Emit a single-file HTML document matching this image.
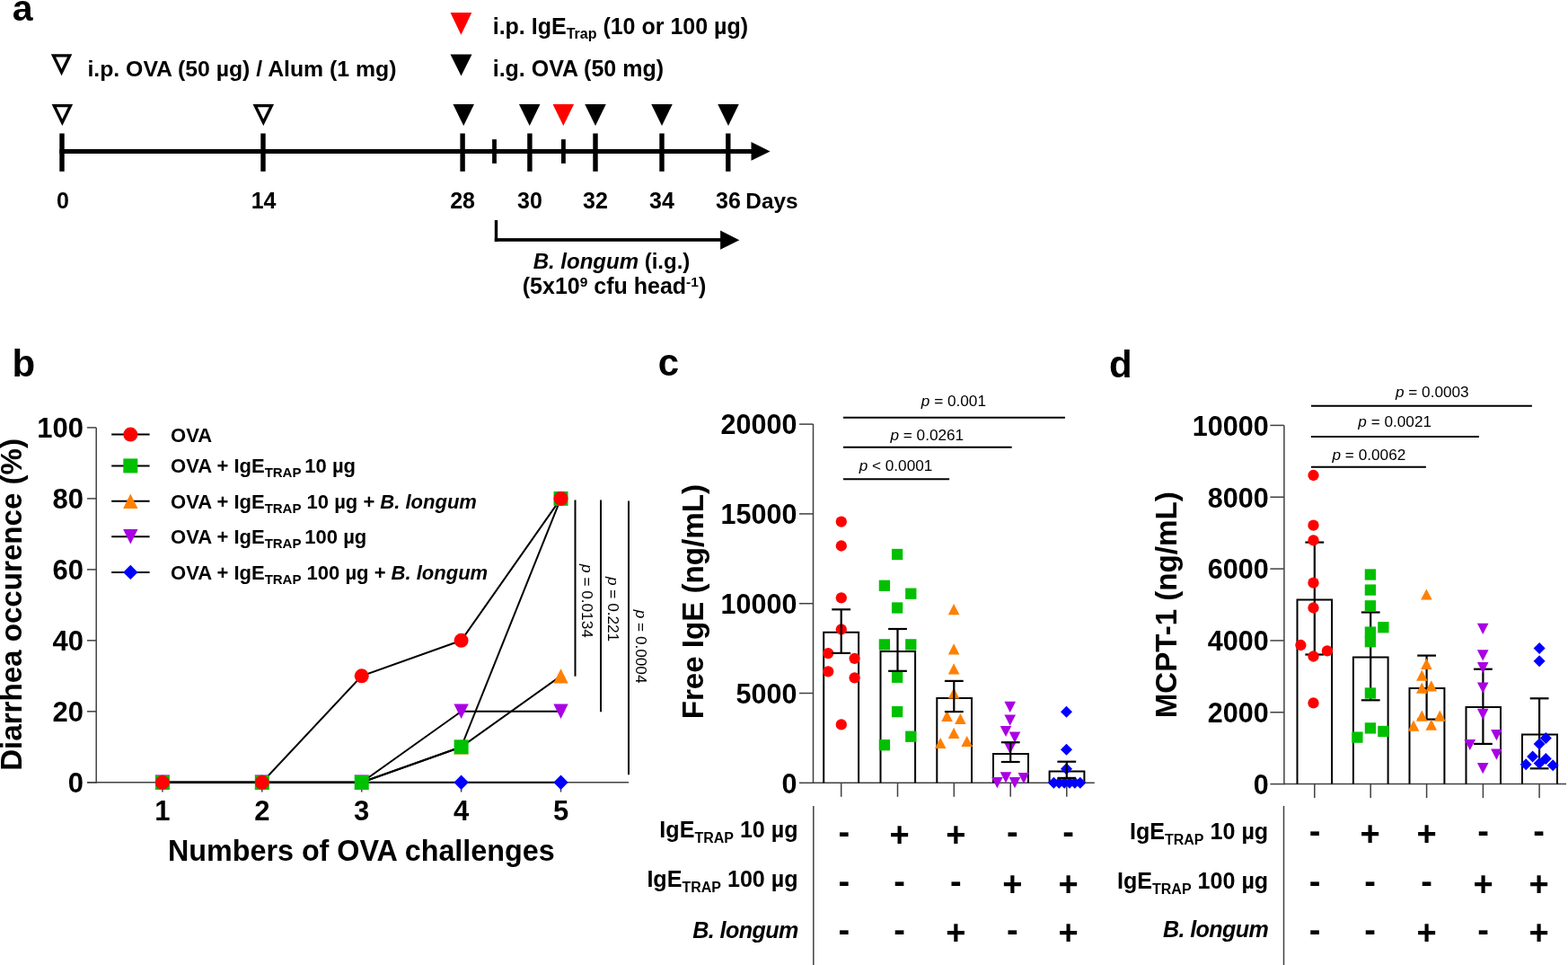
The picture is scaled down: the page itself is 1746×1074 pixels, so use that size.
<!DOCTYPE html>
<html><head><meta charset="utf-8"><title>Figure</title>
<style>
html,body{margin:0;padding:0;background:#fff;}
body{width:1746px;height:1074px;overflow:hidden;}
svg{display:block;}
text{font-family:"Liberation Sans", Arial, Helvetica, sans-serif;fill:#000;}
</style></head><body>
<svg width="1746" height="1074" viewBox="0 0 1746 1074">
<rect x="0" y="0" width="1746" height="1074" fill="#fff"/>
<text x="13.70" y="22.70" font-size="41" font-weight="bold" text-anchor="start">a</text>
<path d="M56.80,60.30 L80.30,60.30 L68.55,84.30 Z M62.09,63.60 L75.01,63.60 L68.55,76.80 Z" fill="#000" fill-rule="evenodd"/>
<text x="97.40" y="85.00" font-size="24.8" font-weight="bold" text-anchor="start">i.p. OVA (50 µg) / Alum (1 mg)</text>
<polygon points="501.50,14.00 525.30,14.00 513.40,38.70" fill="#FF0000"/>
<polygon points="501.50,60.50 525.50,60.50 513.50,84.50" fill="#000"/>
<text x="548.7" y="38" font-size="25" font-weight="bold">i.p. IgE<tspan font-size="16" dy="4.5">Trap</tspan><tspan dy="-4.5"> (10 or 100 µg)</tspan></text>
<text x="548.70" y="85.00" font-size="25" font-weight="bold" text-anchor="start">i.g. OVA (50 mg)</text>
<rect x="66.30" y="166.00" width="770.70" height="5.00" fill="#000"/>
<polygon points="836.50,157.90 836.50,178.80 857.60,168.40" fill="#000"/>
<rect x="66.30" y="148.50" width="5.40" height="42.30" fill="#000"/>
<rect x="290.30" y="148.50" width="5.40" height="42.30" fill="#000"/>
<rect x="512.40" y="148.50" width="5.40" height="42.30" fill="#000"/>
<rect x="587.20" y="148.50" width="5.40" height="42.30" fill="#000"/>
<rect x="660.30" y="148.50" width="5.40" height="42.30" fill="#000"/>
<rect x="734.30" y="148.50" width="5.40" height="42.30" fill="#000"/>
<rect x="808.10" y="148.50" width="5.40" height="42.30" fill="#000"/>
<rect x="548.10" y="155.10" width="4.80" height="26.80" fill="#000"/>
<rect x="625.00" y="155.10" width="4.80" height="26.80" fill="#000"/>
<path d="M57.60,116.00 L81.10,116.00 L69.35,140.00 Z M62.89,119.30 L75.81,119.30 L69.35,132.50 Z" fill="#000" fill-rule="evenodd"/>
<path d="M281.55,116.00 L305.05,116.00 L293.30,140.00 Z M286.84,119.30 L299.76,119.30 L293.30,132.50 Z" fill="#000" fill-rule="evenodd"/>
<polygon points="504.45,116.00 527.95,116.00 516.20,140.00" fill="#000"/>
<polygon points="577.95,116.00 601.45,116.00 589.70,140.00" fill="#000"/>
<polygon points="651.25,116.00 674.75,116.00 663.00,140.00" fill="#000"/>
<polygon points="725.25,116.00 748.75,116.00 737.00,140.00" fill="#000"/>
<polygon points="799.25,116.00 822.75,116.00 811.00,140.00" fill="#000"/>
<polygon points="615.55,116.00 639.05,116.00 627.30,140.00" fill="#FF0000"/>
<text x="70.00" y="232.40" font-size="25" font-weight="bold" text-anchor="middle">0</text>
<text x="293.60" y="232.40" font-size="25" font-weight="bold" text-anchor="middle">14</text>
<text x="515.10" y="232.40" font-size="25" font-weight="bold" text-anchor="middle">28</text>
<text x="589.90" y="232.40" font-size="25" font-weight="bold" text-anchor="middle">30</text>
<text x="663.00" y="232.40" font-size="25" font-weight="bold" text-anchor="middle">32</text>
<text x="737.00" y="232.40" font-size="25" font-weight="bold" text-anchor="middle">34</text>
<text x="811.00" y="232.40" font-size="25" font-weight="bold" text-anchor="middle">36</text>
<text x="830.35" y="232.40" font-size="24.4" font-weight="bold" text-anchor="start">Days</text>
<rect x="550.80" y="245.00" width="3.40" height="23.90" fill="#000"/>
<rect x="550.80" y="265.10" width="252.20" height="3.70" fill="#000"/>
<polygon points="802.10,256.50 802.10,277.70 823.30,267.20" fill="#000"/>
<text x="681" y="299" font-size="24" font-weight="bold" text-anchor="middle"><tspan font-style="italic">B. longum</tspan> (i.g.)</text>
<text x="684" y="327.1" font-size="25" font-weight="bold" text-anchor="middle">(5x10<tspan font-size="15.5" dy="-7.8">9</tspan><tspan dy="7.8"> cfu head</tspan><tspan font-size="15.5" dy="-7.8">-1</tspan><tspan dy="7.8">)</tspan></text>
<text x="13.40" y="419.40" font-size="42" font-weight="bold" text-anchor="start">b</text>
<line x1="107.20" y1="475.90" x2="107.20" y2="871.55" stroke="#404040" stroke-width="1.5" stroke-linecap="butt"/>
<line x1="97.00" y1="870.80" x2="700.00" y2="870.80" stroke="#404040" stroke-width="1.5" stroke-linecap="butt"/>
<line x1="97.00" y1="870.80" x2="107.20" y2="870.80" stroke="#404040" stroke-width="1.5" stroke-linecap="butt"/>
<text x="93.00" y="882.10" font-size="31" font-weight="bold" text-anchor="end">0</text>
<line x1="97.00" y1="791.82" x2="107.20" y2="791.82" stroke="#404040" stroke-width="1.5" stroke-linecap="butt"/>
<text x="93.00" y="803.12" font-size="31" font-weight="bold" text-anchor="end">20</text>
<line x1="97.00" y1="712.84" x2="107.20" y2="712.84" stroke="#404040" stroke-width="1.5" stroke-linecap="butt"/>
<text x="93.00" y="724.14" font-size="31" font-weight="bold" text-anchor="end">40</text>
<line x1="97.00" y1="633.86" x2="107.20" y2="633.86" stroke="#404040" stroke-width="1.5" stroke-linecap="butt"/>
<text x="93.00" y="645.16" font-size="31" font-weight="bold" text-anchor="end">60</text>
<line x1="97.00" y1="554.88" x2="107.20" y2="554.88" stroke="#404040" stroke-width="1.5" stroke-linecap="butt"/>
<text x="93.00" y="566.18" font-size="31" font-weight="bold" text-anchor="end">80</text>
<line x1="97.00" y1="475.90" x2="107.20" y2="475.90" stroke="#404040" stroke-width="1.5" stroke-linecap="butt"/>
<text x="93.00" y="487.20" font-size="31" font-weight="bold" text-anchor="end">100</text>
<line x1="180.90" y1="870.80" x2="180.90" y2="881.50" stroke="#404040" stroke-width="1.5" stroke-linecap="butt"/>
<text x="180.90" y="913.00" font-size="31" font-weight="bold" text-anchor="middle">1</text>
<line x1="291.80" y1="870.80" x2="291.80" y2="881.50" stroke="#404040" stroke-width="1.5" stroke-linecap="butt"/>
<text x="291.80" y="913.00" font-size="31" font-weight="bold" text-anchor="middle">2</text>
<line x1="402.70" y1="870.80" x2="402.70" y2="881.50" stroke="#404040" stroke-width="1.5" stroke-linecap="butt"/>
<text x="402.70" y="913.00" font-size="31" font-weight="bold" text-anchor="middle">3</text>
<line x1="513.60" y1="870.80" x2="513.60" y2="881.50" stroke="#404040" stroke-width="1.5" stroke-linecap="butt"/>
<text x="513.60" y="913.00" font-size="31" font-weight="bold" text-anchor="middle">4</text>
<line x1="624.50" y1="870.80" x2="624.50" y2="881.50" stroke="#404040" stroke-width="1.5" stroke-linecap="butt"/>
<text x="624.50" y="913.00" font-size="31" font-weight="bold" text-anchor="middle">5</text>
<text x="402.30" y="957.50" font-size="32.3" font-weight="bold" text-anchor="middle">Numbers of OVA challenges</text>
<text transform="translate(24.2,672.9) rotate(-90) scale(0.98,1)" x="0" y="0" font-size="33.8" font-weight="bold" text-anchor="middle">Diarrhea occurence (%)</text>
<polyline points="180.90,870.80 291.80,870.80 402.70,870.80 513.60,870.80 624.50,870.80" fill="none" stroke="#000" stroke-width="2"/>
<polyline points="180.90,870.80 291.80,870.80 402.70,870.80 513.60,791.82 624.50,791.82" fill="none" stroke="#000" stroke-width="2"/>
<polyline points="180.90,870.80 291.80,870.80 402.70,870.80 513.60,831.31 624.50,752.33" fill="none" stroke="#000" stroke-width="2"/>
<polyline points="180.90,870.80 291.80,870.80 402.70,870.80 513.60,831.31 624.50,554.88" fill="none" stroke="#000" stroke-width="2"/>
<polyline points="180.90,870.80 291.80,870.80 402.70,752.33 513.60,712.84 624.50,554.88" fill="none" stroke="#000" stroke-width="2"/>
<polygon points="172.70,870.80 180.90,862.60 189.10,870.80 180.90,879.00" fill="#0000FF"/>
<polygon points="283.60,870.80 291.80,862.60 300.00,870.80 291.80,879.00" fill="#0000FF"/>
<polygon points="394.50,870.80 402.70,862.60 410.90,870.80 402.70,879.00" fill="#0000FF"/>
<polygon points="505.40,870.80 513.60,862.60 521.80,870.80 513.60,879.00" fill="#0000FF"/>
<polygon points="616.30,870.80 624.50,862.60 632.70,870.80 624.50,879.00" fill="#0000FF"/>
<polygon points="172.70,862.60 189.10,862.60 180.90,879.00" fill="#A900E4"/>
<polygon points="283.60,862.60 300.00,862.60 291.80,879.00" fill="#A900E4"/>
<polygon points="394.50,862.60 410.90,862.60 402.70,879.00" fill="#A900E4"/>
<polygon points="505.40,783.62 521.80,783.62 513.60,800.02" fill="#A900E4"/>
<polygon points="616.30,783.62 632.70,783.62 624.50,800.02" fill="#A900E4"/>
<polygon points="172.70,879.00 189.10,879.00 180.90,862.60" fill="#FF8000"/>
<polygon points="283.60,879.00 300.00,879.00 291.80,862.60" fill="#FF8000"/>
<polygon points="394.50,879.00 410.90,879.00 402.70,862.60" fill="#FF8000"/>
<polygon points="505.40,839.51 521.80,839.51 513.60,823.11" fill="#FF8000"/>
<polygon points="616.30,760.53 632.70,760.53 624.50,744.13" fill="#FF8000"/>
<rect x="172.90" y="862.80" width="16.00" height="16.00" fill="#00C000"/>
<rect x="283.80" y="862.80" width="16.00" height="16.00" fill="#00C000"/>
<rect x="394.70" y="862.80" width="16.00" height="16.00" fill="#00C000"/>
<rect x="505.60" y="823.31" width="16.00" height="16.00" fill="#00C000"/>
<rect x="616.50" y="546.88" width="16.00" height="16.00" fill="#00C000"/>
<circle cx="180.90" cy="870.80" r="8.0" fill="#FF0000"/>
<circle cx="291.80" cy="870.80" r="8.0" fill="#FF0000"/>
<circle cx="402.70" cy="752.33" r="8.0" fill="#FF0000"/>
<circle cx="513.60" cy="712.84" r="8.0" fill="#FF0000"/>
<circle cx="624.50" cy="554.88" r="8.0" fill="#FF0000"/>
<line x1="124.20" y1="483.60" x2="166.60" y2="483.60" stroke="#000" stroke-width="2" stroke-linecap="butt"/>
<circle cx="145.30" cy="483.60" r="8.0" fill="#FF0000"/>
<text x="190.1" y="491.50" font-size="22" font-weight="bold">OVA</text>
<line x1="124.20" y1="518.40" x2="166.60" y2="518.40" stroke="#000" stroke-width="2" stroke-linecap="butt"/>
<rect x="137.30" y="510.40" width="16.00" height="16.00" fill="#00C000"/>
<text x="190.1" y="526.30" font-size="22" font-weight="bold">OVA + IgE<tspan font-size="15" dy="5">TRAP </tspan><tspan dy="-5">10 µg</tspan></text>
<line x1="124.20" y1="557.80" x2="166.60" y2="557.80" stroke="#000" stroke-width="2" stroke-linecap="butt"/>
<polygon points="137.10,566.00 153.50,566.00 145.30,549.60" fill="#FF8000"/>
<text x="190.1" y="565.70" font-size="22" font-weight="bold">OVA + IgE<tspan font-size="15" dy="5">TRAP</tspan><tspan dy="-5"> 10 µg + </tspan><tspan font-style="italic">B. longum</tspan></text>
<line x1="124.20" y1="597.30" x2="166.60" y2="597.30" stroke="#000" stroke-width="2" stroke-linecap="butt"/>
<polygon points="137.10,589.10 153.50,589.10 145.30,605.50" fill="#A900E4"/>
<text x="190.1" y="605.20" font-size="22" font-weight="bold">OVA + IgE<tspan font-size="15" dy="5">TRAP </tspan><tspan dy="-5">100 µg</tspan></text>
<line x1="124.20" y1="636.90" x2="166.60" y2="636.90" stroke="#000" stroke-width="2" stroke-linecap="butt"/>
<polygon points="137.10,636.90 145.30,628.70 153.50,636.90 145.30,645.10" fill="#0000FF"/>
<text x="190.1" y="644.80" font-size="22" font-weight="bold">OVA + IgE<tspan font-size="15" dy="5">TRAP</tspan><tspan dy="-5"> 100 µg + </tspan><tspan font-style="italic">B. longum</tspan></text>
<line x1="640.50" y1="556.50" x2="640.50" y2="752.70" stroke="#000" stroke-width="2" stroke-linecap="butt"/>
<text transform="translate(648.4,668.9) rotate(90)" x="0" y="0" font-size="17.2" font-weight="normal" text-anchor="middle"><tspan font-style="italic">p</tspan> = 0.0134</text>
<line x1="669.00" y1="556.50" x2="669.00" y2="792.20" stroke="#000" stroke-width="2" stroke-linecap="butt"/>
<text transform="translate(676.5,678.1) rotate(90)" x="0" y="0" font-size="17.2" font-weight="normal" text-anchor="middle"><tspan font-style="italic">p</tspan> = 0.221</text>
<line x1="700.00" y1="557.40" x2="700.00" y2="862.20" stroke="#000" stroke-width="2" stroke-linecap="butt"/>
<text transform="translate(708,719.6) rotate(90)" x="0" y="0" font-size="17.2" font-weight="normal" text-anchor="middle"><tspan font-style="italic">p</tspan> = 0.0004</text>
<text x="732.80" y="418.30" font-size="42" font-weight="bold" text-anchor="start">c</text>
<line x1="905.50" y1="472.10" x2="905.50" y2="872.05" stroke="#404040" stroke-width="1.5" stroke-linecap="butt"/>
<line x1="905.50" y1="871.30" x2="1218.80" y2="871.30" stroke="#404040" stroke-width="1.5" stroke-linecap="butt"/>
<line x1="890.00" y1="871.30" x2="905.50" y2="871.30" stroke="#404040" stroke-width="1.5" stroke-linecap="butt"/>
<text x="887.40" y="882.60" font-size="30.5" font-weight="bold" text-anchor="end">0</text>
<line x1="890.00" y1="771.50" x2="905.50" y2="771.50" stroke="#404040" stroke-width="1.5" stroke-linecap="butt"/>
<text x="887.40" y="782.80" font-size="30.5" font-weight="bold" text-anchor="end">5000</text>
<line x1="890.00" y1="671.70" x2="905.50" y2="671.70" stroke="#404040" stroke-width="1.5" stroke-linecap="butt"/>
<text x="887.40" y="683.00" font-size="30.5" font-weight="bold" text-anchor="end">10000</text>
<line x1="890.00" y1="571.90" x2="905.50" y2="571.90" stroke="#404040" stroke-width="1.5" stroke-linecap="butt"/>
<text x="887.40" y="583.20" font-size="30.5" font-weight="bold" text-anchor="end">15000</text>
<line x1="890.00" y1="472.10" x2="905.50" y2="472.10" stroke="#404040" stroke-width="1.5" stroke-linecap="butt"/>
<text x="887.40" y="483.40" font-size="30.5" font-weight="bold" text-anchor="end">20000</text>
<line x1="936.70" y1="871.30" x2="936.70" y2="886.80" stroke="#404040" stroke-width="1.5" stroke-linecap="butt"/>
<line x1="999.50" y1="871.30" x2="999.50" y2="886.80" stroke="#404040" stroke-width="1.5" stroke-linecap="butt"/>
<line x1="1062.30" y1="871.30" x2="1062.30" y2="886.80" stroke="#404040" stroke-width="1.5" stroke-linecap="butt"/>
<line x1="1125.20" y1="871.30" x2="1125.20" y2="886.80" stroke="#404040" stroke-width="1.5" stroke-linecap="butt"/>
<line x1="1187.80" y1="871.30" x2="1187.80" y2="886.80" stroke="#404040" stroke-width="1.5" stroke-linecap="butt"/>
<path d="M917.20,871.30 V703.70 H956.10 V871.30" fill="none" stroke="#000" stroke-width="2"/>
<path d="M980.50,871.30 V725.00 H1019.10 V871.30" fill="none" stroke="#000" stroke-width="2"/>
<path d="M1043.30,871.30 V777.00 H1082.00 V871.30" fill="none" stroke="#000" stroke-width="2"/>
<path d="M1106.00,871.30 V839.00 H1145.00 V871.30" fill="none" stroke="#000" stroke-width="2"/>
<path d="M1168.60,871.30 V858.50 H1207.40 V871.30" fill="none" stroke="#000" stroke-width="2"/>
<circle cx="936.80" cy="580.60" r="6.15" fill="#FF0000"/>
<circle cx="936.80" cy="607.50" r="6.15" fill="#FF0000"/>
<circle cx="936.80" cy="665.30" r="6.15" fill="#FF0000"/>
<circle cx="936.80" cy="700.50" r="6.15" fill="#FF0000"/>
<circle cx="922.20" cy="727.10" r="6.15" fill="#FF0000"/>
<circle cx="951.60" cy="732.80" r="6.15" fill="#FF0000"/>
<circle cx="922.20" cy="747.30" r="6.15" fill="#FF0000"/>
<circle cx="951.60" cy="754.30" r="6.15" fill="#FF0000"/>
<circle cx="936.80" cy="806.40" r="6.15" fill="#FF0000"/>
<rect x="992.95" y="610.85" width="12.30" height="12.30" fill="#00C000"/>
<rect x="978.75" y="645.65" width="12.30" height="12.30" fill="#00C000"/>
<rect x="1008.15" y="654.55" width="12.30" height="12.30" fill="#00C000"/>
<rect x="992.95" y="670.35" width="12.30" height="12.30" fill="#00C000"/>
<rect x="978.75" y="711.25" width="12.30" height="12.30" fill="#00C000"/>
<rect x="1008.15" y="711.25" width="12.30" height="12.30" fill="#00C000"/>
<rect x="992.95" y="747.65" width="12.30" height="12.30" fill="#00C000"/>
<rect x="992.95" y="785.95" width="12.30" height="12.30" fill="#00C000"/>
<rect x="1008.15" y="813.55" width="12.30" height="12.30" fill="#00C000"/>
<rect x="978.75" y="823.05" width="12.30" height="12.30" fill="#00C000"/>
<polygon points="1055.80,684.20 1068.40,684.20 1062.10,672.00" fill="#FF8000"/>
<polygon points="1055.80,728.50 1068.40,728.50 1062.10,716.30" fill="#FF8000"/>
<polygon points="1055.80,750.40 1068.40,750.40 1062.10,738.20" fill="#FF8000"/>
<polygon points="1055.80,777.60 1068.40,777.60 1062.10,765.40" fill="#FF8000"/>
<polygon points="1048.20,803.00 1060.80,803.00 1054.50,790.80" fill="#FF8000"/>
<polygon points="1063.10,806.10 1075.70,806.10 1069.40,793.90" fill="#FF8000"/>
<polygon points="1055.80,822.00 1068.40,822.00 1062.10,809.80" fill="#FF8000"/>
<polygon points="1040.90,833.10 1053.50,833.10 1047.20,820.90" fill="#FF8000"/>
<polygon points="1070.40,831.10 1083.00,831.10 1076.70,818.90" fill="#FF8000"/>
<polygon points="1118.40,780.80 1131.00,780.80 1124.70,793.00" fill="#A900E4"/>
<polygon points="1118.40,795.60 1131.00,795.60 1124.70,807.80" fill="#A900E4"/>
<polygon points="1113.70,807.90 1126.30,807.90 1120.00,820.10" fill="#A900E4"/>
<polygon points="1123.70,814.50 1136.30,814.50 1130.00,826.70" fill="#A900E4"/>
<polygon points="1118.40,826.90 1131.00,826.90 1124.70,839.10" fill="#A900E4"/>
<polygon points="1113.70,859.20 1126.30,859.20 1120.00,871.40" fill="#A900E4"/>
<polygon points="1104.10,865.00 1116.70,865.00 1110.40,877.20" fill="#A900E4"/>
<polygon points="1123.70,865.00 1136.30,865.00 1130.00,877.20" fill="#A900E4"/>
<polygon points="1133.60,860.00 1146.20,860.00 1139.90,872.20" fill="#A900E4"/>
<polygon points="1181.00,792.30 1187.50,785.80 1194.00,792.30 1187.50,798.80" fill="#0000FF"/>
<polygon points="1181.00,834.30 1187.50,827.80 1194.00,834.30 1187.50,840.80" fill="#0000FF"/>
<polygon points="1181.00,855.80 1187.50,849.30 1194.00,855.80 1187.50,862.30" fill="#0000FF"/>
<polygon points="1166.90,871.20 1173.40,864.70 1179.90,871.20 1173.40,877.70" fill="#0000FF"/>
<polygon points="1172.80,871.20 1179.30,864.70 1185.80,871.20 1179.30,877.70" fill="#0000FF"/>
<polygon points="1178.70,871.20 1185.20,864.70 1191.70,871.20 1185.20,877.70" fill="#0000FF"/>
<polygon points="1184.50,871.20 1191.00,864.70 1197.50,871.20 1191.00,877.70" fill="#0000FF"/>
<polygon points="1190.40,871.20 1196.90,864.70 1203.40,871.20 1196.90,877.70" fill="#0000FF"/>
<polygon points="1196.30,871.20 1202.80,864.70 1209.30,871.20 1202.80,877.70" fill="#0000FF"/>
<line x1="936.70" y1="678.30" x2="936.70" y2="726.90" stroke="#000" stroke-width="2.2" stroke-linecap="butt"/>
<line x1="926.30" y1="678.30" x2="947.10" y2="678.30" stroke="#000" stroke-width="2.2" stroke-linecap="butt"/>
<line x1="926.30" y1="726.90" x2="947.10" y2="726.90" stroke="#000" stroke-width="2.2" stroke-linecap="butt"/>
<line x1="999.50" y1="700.00" x2="999.50" y2="746.80" stroke="#000" stroke-width="2.2" stroke-linecap="butt"/>
<line x1="989.10" y1="700.00" x2="1009.90" y2="700.00" stroke="#000" stroke-width="2.2" stroke-linecap="butt"/>
<line x1="989.10" y1="746.80" x2="1009.90" y2="746.80" stroke="#000" stroke-width="2.2" stroke-linecap="butt"/>
<line x1="1062.30" y1="757.90" x2="1062.30" y2="792.10" stroke="#000" stroke-width="2.2" stroke-linecap="butt"/>
<line x1="1051.90" y1="757.90" x2="1072.70" y2="757.90" stroke="#000" stroke-width="2.2" stroke-linecap="butt"/>
<line x1="1051.90" y1="792.10" x2="1072.70" y2="792.10" stroke="#000" stroke-width="2.2" stroke-linecap="butt"/>
<line x1="1125.20" y1="826.20" x2="1125.20" y2="848.00" stroke="#000" stroke-width="2.2" stroke-linecap="butt"/>
<line x1="1114.80" y1="826.20" x2="1135.60" y2="826.20" stroke="#000" stroke-width="2.2" stroke-linecap="butt"/>
<line x1="1114.80" y1="848.00" x2="1135.60" y2="848.00" stroke="#000" stroke-width="2.2" stroke-linecap="butt"/>
<line x1="1187.80" y1="847.70" x2="1187.80" y2="865.90" stroke="#000" stroke-width="2.2" stroke-linecap="butt"/>
<line x1="1177.40" y1="847.70" x2="1198.20" y2="847.70" stroke="#000" stroke-width="2.2" stroke-linecap="butt"/>
<line x1="1177.40" y1="865.90" x2="1198.20" y2="865.90" stroke="#000" stroke-width="2.2" stroke-linecap="butt"/>
<line x1="939.00" y1="464.80" x2="1185.90" y2="464.80" stroke="#000" stroke-width="2" stroke-linecap="butt"/>
<text x="1061.90" y="452.00" font-size="17.2" font-weight="normal" text-anchor="middle"><tspan font-style="italic">p</tspan> = 0.001</text>
<line x1="939.00" y1="497.70" x2="1126.70" y2="497.70" stroke="#000" stroke-width="2" stroke-linecap="butt"/>
<text x="1032.30" y="489.50" font-size="17.2" font-weight="normal" text-anchor="middle"><tspan font-style="italic">p</tspan> = 0.0261</text>
<line x1="939.00" y1="533.30" x2="1057.10" y2="533.30" stroke="#000" stroke-width="2" stroke-linecap="butt"/>
<text x="997.50" y="523.60" font-size="17.2" font-weight="normal" text-anchor="middle"><tspan font-style="italic">p</tspan> &lt; 0.0001</text>
<text transform="translate(783.3,669.7) rotate(-90) scale(0.98,1)" x="0" y="0" font-size="33.8" font-weight="bold" text-anchor="middle">Free IgE (ng/mL)</text>
<line x1="905.80" y1="897.00" x2="905.80" y2="1074.00" stroke="#404040" stroke-width="1.5" stroke-linecap="butt"/>
<text x="888.60" y="931.90" font-size="25.1" font-weight="bold" text-anchor="end">IgE<tspan font-size="16" dy="5.6">TRAP</tspan><tspan dy="-5.6"> 10 µg</tspan></text>
<text x="888.60" y="987.00" font-size="25.1" font-weight="bold" text-anchor="end">IgE<tspan font-size="16" dy="5.6">TRAP</tspan><tspan dy="-5.6"> 100 µg</tspan></text>
<text x="888.60" y="1043.50" font-size="25.1" font-weight="bold" text-anchor="end"><tspan font-style="italic" letter-spacing="-0.6">B. longum</tspan></text>
<text x="939.80" y="938.88" font-size="38" font-weight="bold" text-anchor="middle">-</text>
<text x="1001.50" y="941.54" font-size="38" font-weight="bold" text-anchor="middle">+</text>
<text x="1064.30" y="941.54" font-size="38" font-weight="bold" text-anchor="middle">+</text>
<text x="1127.40" y="938.88" font-size="38" font-weight="bold" text-anchor="middle">-</text>
<text x="1189.70" y="938.88" font-size="38" font-weight="bold" text-anchor="middle">-</text>
<text x="939.80" y="994.48" font-size="38" font-weight="bold" text-anchor="middle">-</text>
<text x="1001.50" y="994.48" font-size="38" font-weight="bold" text-anchor="middle">-</text>
<text x="1064.30" y="994.48" font-size="38" font-weight="bold" text-anchor="middle">-</text>
<text x="1127.40" y="997.14" font-size="38" font-weight="bold" text-anchor="middle">+</text>
<text x="1189.70" y="997.14" font-size="38" font-weight="bold" text-anchor="middle">+</text>
<text x="939.80" y="1048.18" font-size="38" font-weight="bold" text-anchor="middle">-</text>
<text x="1001.50" y="1048.18" font-size="38" font-weight="bold" text-anchor="middle">-</text>
<text x="1064.30" y="1050.84" font-size="38" font-weight="bold" text-anchor="middle">+</text>
<text x="1127.40" y="1048.18" font-size="38" font-weight="bold" text-anchor="middle">-</text>
<text x="1189.70" y="1050.84" font-size="38" font-weight="bold" text-anchor="middle">+</text>
<text x="1235.10" y="419.60" font-size="42" font-weight="bold" text-anchor="start">d</text>
<line x1="1429.90" y1="473.40" x2="1429.90" y2="873.35" stroke="#404040" stroke-width="1.5" stroke-linecap="butt"/>
<line x1="1429.90" y1="872.60" x2="1744.00" y2="872.60" stroke="#404040" stroke-width="1.5" stroke-linecap="butt"/>
<line x1="1414.40" y1="872.60" x2="1429.90" y2="872.60" stroke="#404040" stroke-width="1.5" stroke-linecap="butt"/>
<text x="1412.70" y="883.90" font-size="30.5" font-weight="bold" text-anchor="end">0</text>
<line x1="1414.40" y1="792.76" x2="1429.90" y2="792.76" stroke="#404040" stroke-width="1.5" stroke-linecap="butt"/>
<text x="1412.70" y="804.06" font-size="30.5" font-weight="bold" text-anchor="end">2000</text>
<line x1="1414.40" y1="712.92" x2="1429.90" y2="712.92" stroke="#404040" stroke-width="1.5" stroke-linecap="butt"/>
<text x="1412.70" y="724.22" font-size="30.5" font-weight="bold" text-anchor="end">4000</text>
<line x1="1414.40" y1="633.08" x2="1429.90" y2="633.08" stroke="#404040" stroke-width="1.5" stroke-linecap="butt"/>
<text x="1412.70" y="644.38" font-size="30.5" font-weight="bold" text-anchor="end">6000</text>
<line x1="1414.40" y1="553.24" x2="1429.90" y2="553.24" stroke="#404040" stroke-width="1.5" stroke-linecap="butt"/>
<text x="1412.70" y="564.54" font-size="30.5" font-weight="bold" text-anchor="end">8000</text>
<line x1="1414.40" y1="473.40" x2="1429.90" y2="473.40" stroke="#404040" stroke-width="1.5" stroke-linecap="butt"/>
<text x="1412.70" y="484.70" font-size="30.5" font-weight="bold" text-anchor="end">10000</text>
<line x1="1463.80" y1="872.60" x2="1463.80" y2="888.10" stroke="#404040" stroke-width="1.5" stroke-linecap="butt"/>
<line x1="1526.20" y1="872.60" x2="1526.20" y2="888.10" stroke="#404040" stroke-width="1.5" stroke-linecap="butt"/>
<line x1="1588.60" y1="872.60" x2="1588.60" y2="888.10" stroke="#404040" stroke-width="1.5" stroke-linecap="butt"/>
<line x1="1651.40" y1="872.60" x2="1651.40" y2="888.10" stroke="#404040" stroke-width="1.5" stroke-linecap="butt"/>
<line x1="1714.10" y1="872.60" x2="1714.10" y2="888.10" stroke="#404040" stroke-width="1.5" stroke-linecap="butt"/>
<path d="M1444.50,872.60 V667.50 H1483.10 V872.60" fill="none" stroke="#000" stroke-width="2"/>
<path d="M1506.90,872.60 V731.40 H1545.60 V872.60" fill="none" stroke="#000" stroke-width="2"/>
<path d="M1569.50,872.60 V765.90 H1608.40 V872.60" fill="none" stroke="#000" stroke-width="2"/>
<path d="M1632.50,872.60 V786.90 H1671.00 V872.60" fill="none" stroke="#000" stroke-width="2"/>
<path d="M1695.00,872.60 V817.40 H1734.00 V872.60" fill="none" stroke="#000" stroke-width="2"/>
<line x1="1463.80" y1="603.60" x2="1463.80" y2="728.50" stroke="#000" stroke-width="2.2" stroke-linecap="butt"/>
<line x1="1453.40" y1="603.60" x2="1474.20" y2="603.60" stroke="#000" stroke-width="2.2" stroke-linecap="butt"/>
<line x1="1453.40" y1="728.50" x2="1474.20" y2="728.50" stroke="#000" stroke-width="2.2" stroke-linecap="butt"/>
<line x1="1526.20" y1="681.50" x2="1526.20" y2="779.30" stroke="#000" stroke-width="2.2" stroke-linecap="butt"/>
<line x1="1515.80" y1="681.50" x2="1536.60" y2="681.50" stroke="#000" stroke-width="2.2" stroke-linecap="butt"/>
<line x1="1515.80" y1="779.30" x2="1536.60" y2="779.30" stroke="#000" stroke-width="2.2" stroke-linecap="butt"/>
<line x1="1588.60" y1="729.60" x2="1588.60" y2="800.60" stroke="#000" stroke-width="2.2" stroke-linecap="butt"/>
<line x1="1578.20" y1="729.60" x2="1599.00" y2="729.60" stroke="#000" stroke-width="2.2" stroke-linecap="butt"/>
<line x1="1578.20" y1="800.60" x2="1599.00" y2="800.60" stroke="#000" stroke-width="2.2" stroke-linecap="butt"/>
<line x1="1651.40" y1="744.70" x2="1651.40" y2="827.90" stroke="#000" stroke-width="2.2" stroke-linecap="butt"/>
<line x1="1641.00" y1="744.70" x2="1661.80" y2="744.70" stroke="#000" stroke-width="2.2" stroke-linecap="butt"/>
<line x1="1641.00" y1="827.90" x2="1661.80" y2="827.90" stroke="#000" stroke-width="2.2" stroke-linecap="butt"/>
<line x1="1714.10" y1="777.30" x2="1714.10" y2="855.30" stroke="#000" stroke-width="2.2" stroke-linecap="butt"/>
<line x1="1703.70" y1="777.30" x2="1724.50" y2="777.30" stroke="#000" stroke-width="2.2" stroke-linecap="butt"/>
<line x1="1703.70" y1="855.30" x2="1724.50" y2="855.30" stroke="#000" stroke-width="2.2" stroke-linecap="butt"/>
<circle cx="1462.50" cy="529.00" r="6.15" fill="#FF0000"/>
<circle cx="1462.50" cy="584.70" r="6.15" fill="#FF0000"/>
<circle cx="1462.50" cy="601.40" r="6.15" fill="#FF0000"/>
<circle cx="1462.50" cy="648.70" r="6.15" fill="#FF0000"/>
<circle cx="1462.50" cy="676.50" r="6.15" fill="#FF0000"/>
<circle cx="1448.40" cy="718.00" r="6.15" fill="#FF0000"/>
<circle cx="1477.90" cy="724.40" r="6.15" fill="#FF0000"/>
<circle cx="1462.50" cy="730.50" r="6.15" fill="#FF0000"/>
<circle cx="1462.50" cy="782.40" r="6.15" fill="#FF0000"/>
<rect x="1519.75" y="633.35" width="12.30" height="12.30" fill="#00C000"/>
<rect x="1519.75" y="650.45" width="12.30" height="12.30" fill="#00C000"/>
<rect x="1519.75" y="668.15" width="12.30" height="12.30" fill="#00C000"/>
<rect x="1534.25" y="692.05" width="12.30" height="12.30" fill="#00C000"/>
<rect x="1519.75" y="697.45" width="12.30" height="12.30" fill="#00C000"/>
<rect x="1519.75" y="708.05" width="12.30" height="12.30" fill="#00C000"/>
<rect x="1519.75" y="765.35" width="12.30" height="12.30" fill="#00C000"/>
<rect x="1519.75" y="804.25" width="12.30" height="12.30" fill="#00C000"/>
<rect x="1534.25" y="807.85" width="12.30" height="12.30" fill="#00C000"/>
<rect x="1505.25" y="814.45" width="12.30" height="12.30" fill="#00C000"/>
<polygon points="1582.10,667.60 1594.70,667.60 1588.40,655.40" fill="#FF8000"/>
<polygon points="1582.10,745.00 1594.70,745.00 1588.40,732.80" fill="#FF8000"/>
<polygon points="1577.00,757.80 1589.60,757.80 1583.30,745.60" fill="#FF8000"/>
<polygon points="1587.50,769.50 1600.10,769.50 1593.80,757.30" fill="#FF8000"/>
<polygon points="1577.00,771.80 1589.60,771.80 1583.30,759.60" fill="#FF8000"/>
<polygon points="1577.00,802.80 1589.60,802.80 1583.30,790.60" fill="#FF8000"/>
<polygon points="1597.00,802.80 1609.60,802.80 1603.30,790.60" fill="#FF8000"/>
<polygon points="1567.70,813.70 1580.30,813.70 1574.00,801.50" fill="#FF8000"/>
<polygon points="1587.50,812.80 1600.10,812.80 1593.80,800.60" fill="#FF8000"/>
<polygon points="1644.90,693.80 1657.50,693.80 1651.20,706.00" fill="#A900E4"/>
<polygon points="1644.90,723.30 1657.50,723.30 1651.20,735.50" fill="#A900E4"/>
<polygon points="1644.90,737.00 1657.50,737.00 1651.20,749.20" fill="#A900E4"/>
<polygon points="1644.90,759.40 1657.50,759.40 1651.20,771.60" fill="#A900E4"/>
<polygon points="1644.90,788.70 1657.50,788.70 1651.20,800.90" fill="#A900E4"/>
<polygon points="1660.10,812.00 1672.70,812.00 1666.40,824.20" fill="#A900E4"/>
<polygon points="1630.50,822.90 1643.10,822.90 1636.80,835.10" fill="#A900E4"/>
<polygon points="1660.10,833.60 1672.70,833.60 1666.40,845.80" fill="#A900E4"/>
<polygon points="1644.90,849.00 1657.50,849.00 1651.20,861.20" fill="#A900E4"/>
<polygon points="1707.60,721.50 1714.10,715.00 1720.60,721.50 1714.10,728.00" fill="#0000FF"/>
<polygon points="1707.60,735.70 1714.10,729.20 1720.60,735.70 1714.10,742.20" fill="#0000FF"/>
<polygon points="1714.80,821.60 1721.30,815.10 1727.80,821.60 1721.30,828.10" fill="#0000FF"/>
<polygon points="1707.60,828.10 1714.10,821.60 1720.60,828.10 1714.10,834.60" fill="#0000FF"/>
<polygon points="1700.10,842.00 1706.60,835.50 1713.10,842.00 1706.60,848.50" fill="#0000FF"/>
<polygon points="1714.80,844.40 1721.30,837.90 1727.80,844.40 1721.30,850.90" fill="#0000FF"/>
<polygon points="1692.70,850.70 1699.20,844.20 1705.70,850.70 1699.20,857.20" fill="#0000FF"/>
<polygon points="1707.60,849.50 1714.10,843.00 1720.60,849.50 1714.10,856.00" fill="#0000FF"/>
<polygon points="1722.70,851.80 1729.20,845.30 1735.70,851.80 1729.20,858.30" fill="#0000FF"/>
<line x1="1460.00" y1="451.70" x2="1705.90" y2="451.70" stroke="#000" stroke-width="2" stroke-linecap="butt"/>
<text x="1594.80" y="442.10" font-size="17.2" font-weight="normal" text-anchor="middle"><tspan font-style="italic">p</tspan> = 0.0003</text>
<line x1="1460.00" y1="486.00" x2="1646.80" y2="486.00" stroke="#000" stroke-width="2" stroke-linecap="butt"/>
<text x="1553.20" y="474.90" font-size="17.2" font-weight="normal" text-anchor="middle"><tspan font-style="italic">p</tspan> = 0.0021</text>
<line x1="1460.00" y1="519.70" x2="1587.90" y2="519.70" stroke="#000" stroke-width="2" stroke-linecap="butt"/>
<text x="1524.40" y="511.50" font-size="17.2" font-weight="normal" text-anchor="middle"><tspan font-style="italic">p</tspan> = 0.0062</text>
<text transform="translate(1310.3,673.3) rotate(-90) scale(0.98,1)" x="0" y="0" font-size="33.8" font-weight="bold" text-anchor="middle">MCPT-1 (ng/mL)</text>
<line x1="1429.50" y1="897.00" x2="1429.50" y2="1074.00" stroke="#404040" stroke-width="1.5" stroke-linecap="butt"/>
<text x="1412.20" y="934.10" font-size="25.1" font-weight="bold" text-anchor="end">IgE<tspan font-size="16" dy="5.6">TRAP</tspan><tspan dy="-5.6"> 10 µg</tspan></text>
<text x="1412.20" y="989.30" font-size="25.1" font-weight="bold" text-anchor="end">IgE<tspan font-size="16" dy="5.6">TRAP</tspan><tspan dy="-5.6"> 100 µg</tspan></text>
<text x="1412.20" y="1043.20" font-size="25.1" font-weight="bold" text-anchor="end"><tspan font-style="italic" letter-spacing="-0.6">B. longum</tspan></text>
<text x="1464.00" y="938.28" font-size="38" font-weight="bold" text-anchor="middle">-</text>
<text x="1525.50" y="940.94" font-size="38" font-weight="bold" text-anchor="middle">+</text>
<text x="1588.50" y="940.94" font-size="38" font-weight="bold" text-anchor="middle">+</text>
<text x="1651.70" y="938.28" font-size="38" font-weight="bold" text-anchor="middle">-</text>
<text x="1713.70" y="938.28" font-size="38" font-weight="bold" text-anchor="middle">-</text>
<text x="1464.00" y="994.38" font-size="38" font-weight="bold" text-anchor="middle">-</text>
<text x="1525.50" y="994.38" font-size="38" font-weight="bold" text-anchor="middle">-</text>
<text x="1588.50" y="994.38" font-size="38" font-weight="bold" text-anchor="middle">-</text>
<text x="1651.70" y="997.04" font-size="38" font-weight="bold" text-anchor="middle">+</text>
<text x="1713.70" y="997.04" font-size="38" font-weight="bold" text-anchor="middle">+</text>
<text x="1464.00" y="1048.48" font-size="38" font-weight="bold" text-anchor="middle">-</text>
<text x="1525.50" y="1048.48" font-size="38" font-weight="bold" text-anchor="middle">-</text>
<text x="1588.50" y="1051.14" font-size="38" font-weight="bold" text-anchor="middle">+</text>
<text x="1651.70" y="1048.48" font-size="38" font-weight="bold" text-anchor="middle">-</text>
<text x="1713.70" y="1051.14" font-size="38" font-weight="bold" text-anchor="middle">+</text>
</svg>
</body></html>
